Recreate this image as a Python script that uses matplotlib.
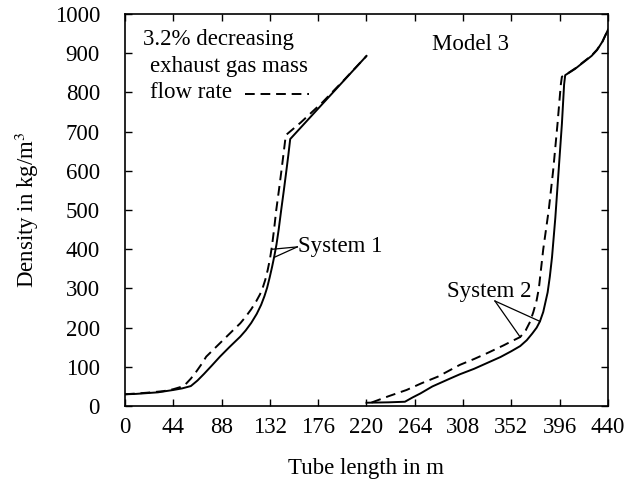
import numpy as np
import matplotlib.pyplot as plt

plt.rcParams['font.family'] = ['Liberation Serif', 'DejaVu Serif']
plt.rcParams['mathtext.fontset'] = 'stix'

# System 1, nominal mass flow (solid) and 3.2 % less (dashed)
s1_x = [0, 10, 20, 30, 44, 52, 60, 66, 72, 79, 86.5, 95, 105, 110, 115, 120, 124, 127,
        129.5, 131.8, 134, 136, 138, 140, 142.3, 144.7, 147, 148.8, 150.5, 220]
s1_y = [30, 31, 33, 35, 41, 45, 51, 65, 82, 103, 126, 150, 177, 193, 212, 235, 258, 280,
        302, 328, 355, 382, 412, 450, 500, 550, 600, 640, 681, 893]
s1d_x = [0, 20, 35, 44, 50, 55, 60, 65, 70, 74, 82, 90, 98, 105, 110, 115, 119.5, 123,
         125.5, 127.8, 130, 132, 134, 136, 137.8, 140.2, 142.5, 144.5, 146.5, 160, 180,
         200, 220]
s1d_y = [30, 34, 38, 43, 48, 55, 70, 88, 108, 126, 148, 170, 192, 211, 228, 247, 267, 285,
         302, 322, 347, 374, 410, 455, 500, 550, 600, 645, 691, 723, 775,
         833, 893]

# System 2
s2_x = [220, 240, 255, 262, 269, 280, 296, 305, 318, 330, 342, 352, 360, 366, 371, 375,
        378, 381, 383, 385, 387, 389, 390.5, 392, 393.5, 395, 396.5, 398, 399, 400, 401,
        405, 410, 414.5, 420, 425, 430, 435, 440]
s2_y = [8.5, 9.5, 11, 22, 32, 50, 70, 81, 95, 110, 125, 140, 153, 168, 185, 200,
        216, 240, 265, 290, 330, 380, 430, 480, 540, 600, 660, 720, 770, 820, 844,
        851, 860, 870, 882, 893, 908, 930, 960]
s2d_x = [224.6, 240, 256.5, 270, 285, 305, 318, 330, 345, 352, 360, 365, 369, 372, 375,
         377, 379, 381, 383.5, 386, 388, 390, 392, 394, 395.5, 397, 398, 403, 410,
         414.5, 420, 425, 430, 435, 440]
s2d_y = [9, 25, 41, 58, 75, 105, 120, 135, 155, 165, 176, 193, 215, 240, 270,
         300, 350, 400, 450, 500, 550, 600, 660, 720, 770, 820, 840, 848, 861,
         871, 883, 894, 909, 930, 960]

x_ticks = [0, 44, 88, 132, 176, 220, 264, 308, 352, 396, 440]
y_ticks = [0, 100, 200, 300, 400, 500, 600, 700, 800, 900, 1000]

fig = plt.figure(figsize=(6.36, 4.91), dpi=100)
ax = fig.add_axes([0.1965, 0.173, 0.7595, 0.7985])

lw = 1.4
dash = (0, (5, 3))
ax.plot(s1_x, s1_y, color='black', lw=lw)
ax.plot(s1d_x, s1d_y, color='black', lw=lw, linestyle=dash)
ax.plot(s2_x, s2_y, color='black', lw=lw)
ax.plot(s2d_x, s2d_y, color='black', lw=lw, linestyle=dash)

ax.set_xlim(0, 440)
ax.set_ylim(0, 1000)
ax.set_xticks(x_ticks)
ax.set_yticks(y_ticks)
ax.tick_params(direction='in', top=True, right=True, length=5, width=1, labelsize=16.5)
ax.tick_params(axis='x', pad=8)
ax.tick_params(axis='y', pad=18)
for sp in ax.spines.values():
    sp.set_linewidth(1.2)

ax.set_xlabel('Tube length in m', fontsize=16.5, labelpad=14)
ax.set_ylabel(r'Density in kg/m$^3$', fontsize=16.5, labelpad=10)

# legend-like note
fs = 16.5
ax.text(16, 934, '3.2% decreasing', fontsize=fs, va='center', ha='left')
ax.text(23, 865, 'exhaust gas mass', fontsize=fs, va='center', ha='left')
ax.text(23, 801, 'flow rate', fontsize=fs, va='center', ha='left')
ax.plot([109, 168], [795, 795], color='black', lw=lw, linestyle=dash)

ax.text(315, 921, 'Model 3', fontsize=fs, va='center', ha='center')

# System labels with leader lines
ax.text(158, 406, 'System 1', fontsize=fs, va='center', ha='left')
ax.plot([157, 134.5], [406, 400], color='black', lw=0.9)
ax.plot([157, 136.5], [406, 380], color='black', lw=0.9)

ax.text(293, 291, 'System 2', fontsize=fs, va='center', ha='left')
ax.plot([337, 360], [268, 176], color='black', lw=0.9)
ax.plot([337, 378], [268, 216], color='black', lw=0.9)

fig.savefig('out.png', dpi=100)
